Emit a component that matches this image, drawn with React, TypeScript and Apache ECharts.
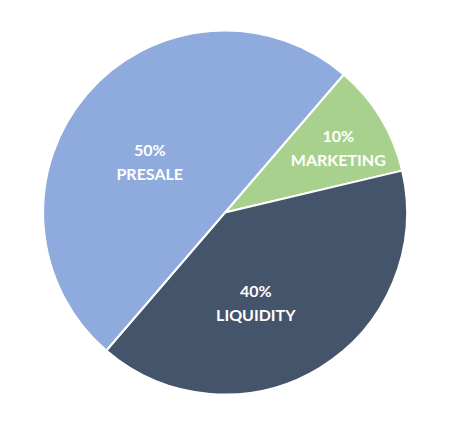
import React, { useEffect, useRef } from "react";
import * as echarts from "echarts";

const categories = ["MARKETING", "LIQUIDITY", "PRESALE"];
const values = [10, 40, 50];
const colors = ["#A9D18E", "#44546A", "#8FAADC"];
const labelOffsets = [[33, -16], [-18, 10], [-4, 10]];

export default function App() {
  const ref = useRef<HTMLDivElement>(null);
  useEffect(() => {
    if (!ref.current) return;
    const chart = echarts.init(ref.current, null, { renderer: "svg" });
    chart.setOption({
      animation: false,
      backgroundColor: "#ffffff",
      series: [
        {
          type: "pie",
          center: [225, 212.5],
          radius: 182,
          startAngle: 49.3,
          clockwise: true,
          avoidLabelOverlap: false,
          itemStyle: { borderColor: "#ffffff", borderWidth: 2 },
          label: {
            show: true,
            position: "inside",
            color: "#ffffff",
            fontFamily: "Lato",
            fontWeight: "bold",
            fontSize: 16,
            lineHeight: 24,
            align: "center",
            formatter: (p: any) => `${p.value}%\n${p.name}`,
          },
          labelLine: { show: false },
          emphasis: { disabled: true },
          data: categories.map((name, i) => ({
            name,
            value: values[i],
            itemStyle: { color: colors[i] },
            label: { offset: labelOffsets[i] },
          })),
        },
      ],
    });
    return () => chart.dispose();
  }, []);
  return (
    <div
      ref={ref}
      style={{ position: "fixed", left: 0, top: 0, width: 452, height: 428 }}
    />
  );
}
